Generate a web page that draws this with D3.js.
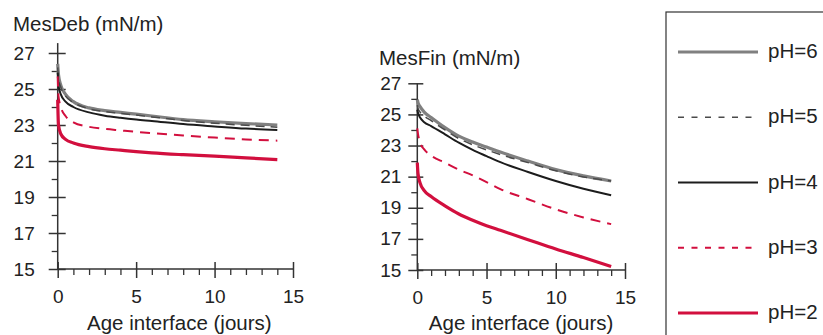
<!DOCTYPE html>
<html>
<head>
<meta charset="utf-8">
<script src="https://cdn.jsdelivr.net/npm/d3@7/dist/d3.min.js"></script>
<style>
  html, body { margin: 0; padding: 0; background: #fff; }
  svg { display: block; font-family: "Liberation Sans", Arial, sans-serif; }
  text { fill: #222; }
</style>
</head>
<body>
<svg id="chart" width="823" height="335"></svg>
<script>
// Age of the interface (days) at which each curve is sampled
const ages = [0, 0.05, 0.2, 0.5, 1, 2, 3, 4, 5, 6, 8, 10, 12, 14];

// Surface tension at start of measurement (mN/m), one array per pH
const mesDebPH6 = [26.4, 25.8, 25.2, 24.7, 24.3, 23.95, 23.8, 23.7, 23.6, 23.5, 23.3, 23.18, 23.08, 23.0];
const mesDebPH5 = [26.2, 25.6, 25.1, 24.6, 24.25, 23.9, 23.75, 23.65, 23.55, 23.45, 23.25, 23.1, 22.98, 22.88];
const mesDebPH4 = [25.9, 25.2, 24.7, 24.3, 24.0, 23.7, 23.52, 23.4, 23.3, 23.22, 23.05, 22.92, 22.8, 22.72];
const mesDebPH3 = [25.7, 24.6, 24.0, 23.5, 23.15, 22.9, 22.78, 22.7, 22.62, 22.55, 22.42, 22.3, 22.2, 22.13];
const mesDebPH2 = [24.4, 23.0, 22.5, 22.2, 22.0, 21.8, 21.68, 21.6, 21.52, 21.45, 21.35, 21.27, 21.17, 21.08];

// Surface tension at end of measurement (mN/m), one array per pH
const mesFinPH6 = [25.95, 25.75, 25.5, 25.15, 24.8, 24.15, 23.6, 23.22, 22.9, 22.58, 22.0, 21.45, 21.05, 20.72];
const mesFinPH5 = [25.6, 25.4, 25.15, 24.9, 24.6, 24.0, 23.45, 23.05, 22.72, 22.42, 21.9, 21.38, 20.98, 20.72];
const mesFinPH4 = [25.3, 25.1, 24.8, 24.5, 24.25, 23.72, 23.18, 22.72, 22.32, 21.93, 21.3, 20.72, 20.22, 19.8];
const mesFinPH3 = [24.1, 23.75, 23.2, 22.75, 22.35, 21.9, 21.45, 21.08, 20.65, 20.2, 19.55, 18.9, 18.38, 17.95];
const mesFinPH2 = [21.9, 21.2, 20.6, 20.1, 19.72, 19.12, 18.6, 18.2, 17.85, 17.55, 16.95, 16.35, 15.8, 15.22];

// Legend labels and axis ticks
const phLabels = ["pH=6", "pH=5", "pH=4", "pH=3", "pH=2"];
const xMajorTicks = [0, 5, 10, 15];
const xMinorTicks = d3.range(0, 16).filter(v => v % 5 !== 0);
const yMajorTicks = [15, 17, 19, 21, 23, 25, 27];
const yMinorTicks = [16, 18, 20, 22, 24, 26];

// Line style for each pH
const styles = [
  { color: "#808080", width: 3.2, dash: null, legendDash: null },
  { color: "#4a4a4a", width: 1.5, dash: "9,6", legendDash: "6,7.5" },
  { color: "#1c1c1c", width: 2, dash: null, legendDash: null },
  { color: "#d20f3e", width: 2, dash: "10,7", legendDash: "6,7.5" },
  { color: "#d20f3e", width: 3.2, dash: null, legendDash: null }
];

const svg = d3.select("#chart");
const axisColor = "#333";

function drawPanel(cfg) {
  const x = d3.scaleLinear().domain([0, 15]).range(cfg.xRange);
  const y = d3.scaleLinear().domain([15, 27]).range(cfg.yRange);
  const g = svg.append("g");

  // vertical axis line
  g.append("line")
    .attr("x1", x(0)).attr("x2", x(0))
    .attr("y1", y(15)).attr("y2", y(cfg.yAxisTop))
    .attr("stroke", axisColor).attr("stroke-width", 1.5);

  // horizontal axis line
  g.append("line")
    .attr("x1", x(0)).attr("x2", x(15))
    .attr("y1", y(15)).attr("y2", y(15))
    .attr("stroke", axisColor).attr("stroke-width", 1.5);

  // y axis: major ticks cross the axis, minor ticks on the left only
  const yAxis = g.append("g")
    .attr("transform", `translate(${x(0)},0)`)
    .call(d3.axisLeft(y).tickValues(yMajorTicks).tickSize(cfg.yTickOut).tickSizeOuter(0));
  yAxis.select(".domain").remove();
  yAxis.selectAll(".tick line").attr("x1", cfg.yTickIn).attr("stroke", axisColor).attr("stroke-width", 1.5);
  yAxis.selectAll(".tick text")
    .attr("x", -cfg.yLabelGap).attr("font-size", 19).attr("fill", "#222")
    .attr("font-family", "Liberation Sans, Arial, sans-serif");

  const yMinor = g.append("g")
    .attr("transform", `translate(${x(0)},0)`)
    .call(d3.axisLeft(y).tickValues(yMinorTicks).tickSize(6).tickFormat(""));
  yMinor.select(".domain").remove();
  yMinor.selectAll(".tick line").attr("stroke", axisColor).attr("stroke-width", 1.3);

  // x axis: major ticks cross the axis, minor ticks below only
  const xAxis = g.append("g")
    .attr("transform", `translate(0,${y(15)})`)
    .call(d3.axisBottom(x).tickValues(xMajorTicks).tickSize(9).tickSizeOuter(0));
  xAxis.select(".domain").remove();
  xAxis.selectAll(".tick line").attr("y1", -7).attr("stroke", axisColor).attr("stroke-width", 1.5);
  xAxis.selectAll(".tick text")
    .attr("y", 34).attr("dy", null).attr("font-size", 19).attr("fill", "#222")
    .attr("font-family", "Liberation Sans, Arial, sans-serif");

  const xMinor = g.append("g")
    .attr("transform", `translate(0,${y(15)})`)
    .call(d3.axisBottom(x).tickValues(xMinorTicks).tickSize(6).tickFormat(""));
  xMinor.select(".domain").remove();
  xMinor.selectAll(".tick line").attr("stroke", axisColor).attr("stroke-width", 1.3);

  // curves
  const line = d3.line()
    .x((d, i) => x(ages[i]))
    .y(d => y(d))
    .curve(d3.curveMonotoneX);

  cfg.series.forEach((vals, i) => {
    const s = styles[i];
    g.append("path")
      .datum(vals)
      .attr("d", line)
      .attr("fill", "none")
      .attr("stroke", s.color)
      .attr("stroke-width", s.width)
      .attr("stroke-dasharray", s.dash)
      .attr("stroke-linejoin", "round");
  });

  // titles
  g.append("text")
    .attr("x", cfg.titleX).attr("y", cfg.titleY)
    .attr("font-size", 20.5)
    .text(cfg.title);
  g.append("text")
    .attr("x", (x(0) + x(15)) / 2 + cfg.xTitleShift).attr("y", 330)
    .attr("text-anchor", "middle")
    .attr("font-size", 20.5)
    .text("Age interface (jours)");
}

drawPanel({
  xRange: [57.7, 293], yRange: [269, 53], yAxisTop: 27.55,
  yTickOut: 9, yTickIn: 8, yLabelGap: 23,
  title: "MesDeb (mN/m)", titleX: 13, titleY: 31, xTitleShift: 4,
  series: [mesDebPH6, mesDebPH5, mesDebPH4, mesDebPH3, mesDebPH2]
});

drawPanel({
  xRange: [417.3, 625], yRange: [270, 83.3], yAxisTop: 27,
  yTickOut: 9, yTickIn: 6, yLabelGap: 16,
  title: "MesFin (mN/m)", titleX: 379, titleY: 65, xTitleShift: 0,
  series: [mesFinPH6, mesFinPH5, mesFinPH4, mesFinPH3, mesFinPH2]
});

// legend box, running off the right and bottom edges
const legend = svg.append("g");
legend.append("rect")
  .attr("x", 666).attr("y", 12).attr("width", 200).attr("height", 400)
  .attr("fill", "none").attr("stroke", "#333").attr("stroke-width", 1.2);

const legendY = d3.scalePoint().domain(phLabels).range([52, 313]);
phLabels.forEach((lab, i) => {
  const s = styles[i];
  const yy = legendY(lab);
  legend.append("line")
    .attr("x1", 678).attr("x2", 758).attr("y1", yy).attr("y2", yy)
    .attr("stroke", s.color).attr("stroke-width", s.width)
    .attr("stroke-dasharray", s.legendDash);
  legend.append("text")
    .attr("x", 768).attr("y", yy + 6)
    .attr("font-size", 20.5)
    .text(lab);
});
</script>
</body>
</html>
